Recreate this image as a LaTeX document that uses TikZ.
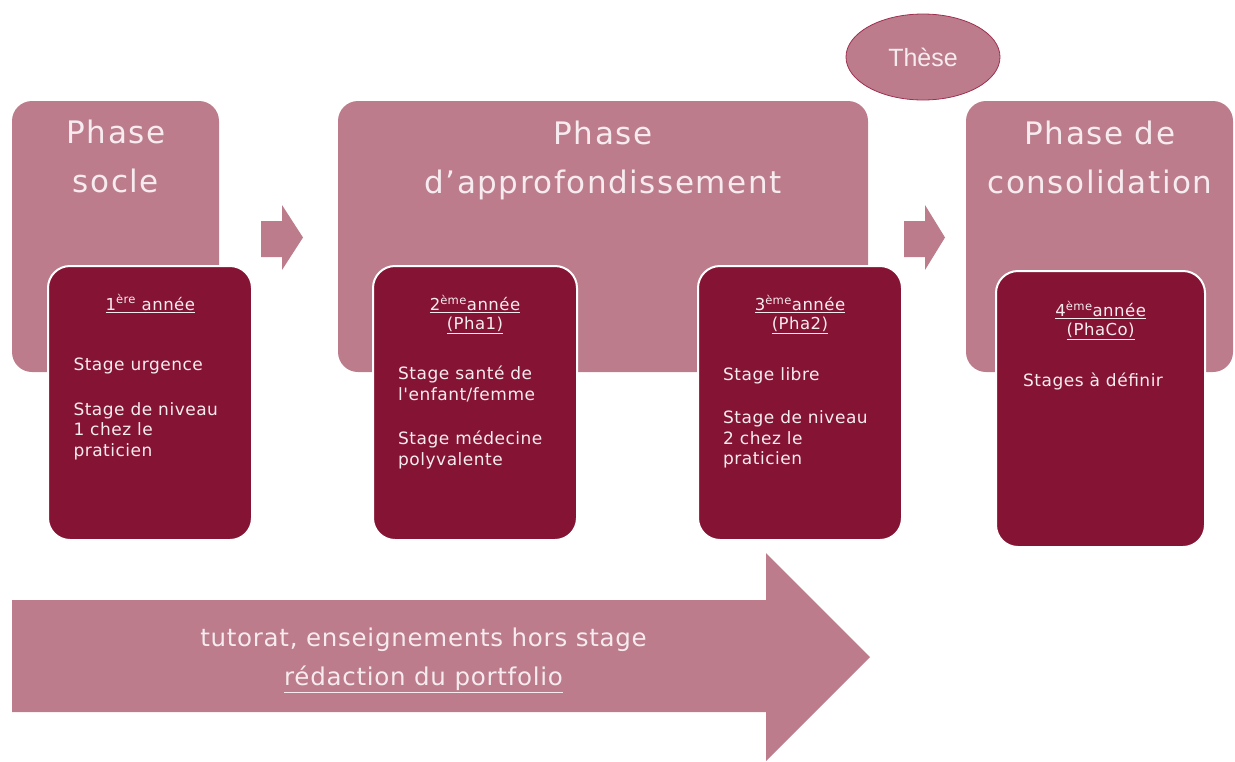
\documentclass[tikz,border=0pt]{standalone}
\usepackage{fontspec}
\setmainfont{DejaVu Sans}
\newfontfamily\titlefont[LetterSpace=5]{DejaVu Sans}
\newfontfamily\boxfont[LetterSpace=3]{DejaVu Sans}
\newfontfamily\thesefont{Liberation Sans}
\usetikzlibrary{shapes.geometric}
\definecolor{phasepink}{RGB}{188,124,140}
\definecolor{yearred}{RGB}{133,20,52}
\definecolor{softwhite}{RGB}{246,236,240}
\definecolor{ellipseedge}{RGB}{158,48,82}

\begin{document}
\begin{tikzpicture}[x=1pt,y=-1pt,
  phasebox/.style={fill=phasepink, rounded corners=20pt, inner sep=0pt, minimum height=271pt},
  yearbox/.style={fill=yearred, draw=white, line width=2pt, rounded corners=22pt, inner sep=0pt},
  phasetitle/.style={text=softwhite, inner sep=0pt, anchor=north, align=center,
    font=\titlefont\fontsize{31}{48.5}\selectfont, execute at begin node={\rule{0pt}{30pt}}},
  yearhead/.style={text=softwhite, inner sep=0pt, anchor=north, align=center,
    font=\boxfont\fontsize{16.5}{18.5}\selectfont, execute at begin node={\rule{0pt}{16pt}}},
  yearbody/.style={text=softwhite, inner sep=0pt, anchor=north west, align=left,
    font=\boxfont\fontsize{17}{20.5}\selectfont, execute at begin node={\rule{0pt}{14pt}}},
  blockarrow/.style={fill=phasepink},
]
\useasboundingbox (0,0) rectangle (1235,761);

% phase panels
\node[phasebox, minimum width=207pt] (socle) at (115.5,236.5) {};
\node[phasebox, minimum width=530pt] (approf) at (603,236.5) {};
\node[phasebox, minimum width=267pt] (consol) at (1099.5,236.5) {};

\node[phasetitle] (socletitle) at (116,120) {Phase\\socle};
\node[phasetitle] (approftitle) at (603,121) {Phase\\d’approfondissement};
\node[phasetitle] (consoltitle) at (1100,121) {Phase de\\consolidation};

% arrows between phases
\fill[blockarrow] (261,221) -- (282,221) -- (282,205) -- (303,237.5) -- (282,270) -- (282,257) -- (261,257) -- cycle;
\fill[blockarrow] (904,221) -- (925,221) -- (925,205) -- (945,237.5) -- (925,270) -- (925,257) -- (904,257) -- cycle;

% thesis bubble
\node[ellipse, fill=phasepink, draw=ellipseedge, line width=0.8pt,
      minimum width=154pt, minimum height=86pt, inner sep=0pt,
      text=softwhite, font=\thesefont\fontsize{25}{30}\selectfont] (these) at (923,57) {Thèse};

% yearly internship cards
\node[yearbox, minimum width=204pt, minimum height=274pt] (y1) at (150,403) {};
\node[yearbox, minimum width=204pt, minimum height=274pt] (y2) at (475,403) {};
\node[yearbox, minimum width=204pt, minimum height=274pt] (y3) at (800,403) {};
\node[yearbox, minimum width=209pt, minimum height=276pt] (y4) at (1100.5,409) {};

\node[yearhead] (y1head) at (150.3,294) {\underline{1\textsuperscript{ère} année}};
\node[yearbody] (y1body) at (73.3,358) {Stage urgence\\[24pt]Stage de niveau\\1 chez le\\praticien};

\node[yearhead] (y2head) at (475,295) {\underline{2\textsuperscript{ème}année}\\\underline{(Pha1)}};
\node[yearbody] (y2body) at (398,366) {Stage santé de\\l'enfant/femme\\[24pt]Stage médecine\\polyvalente};

\node[yearhead] (y3head) at (800,295) {\underline{3\textsuperscript{ème}année}\\\underline{(Pha2)}};
\node[yearbody] (y3body) at (723,367) {Stage libre\\[23pt]Stage de niveau\\2 chez le\\praticien};

\node[yearhead] (y4head) at (1100.7,301) {\underline{4\textsuperscript{ème}année}\\\underline{(PhaCo)}};
\node[yearbody] (y4body) at (1023,372) {Stages à définir};

% long arrow along the whole curriculum
\fill[blockarrow] (12,600) -- (766,600) -- (766,553) -- (870,657) -- (766,761) -- (766,712) -- (12,712) -- cycle;
\node[text=softwhite, inner sep=0pt, anchor=north, align=center,
      font=\boxfont\fontsize{24.5}{39}\selectfont, execute at begin node={\rule{0pt}{22pt}}]
      (tutorat) at (423.5,628) {tutorat, enseignements hors stage\\\underline{rédaction du portfolio}};
\end{tikzpicture}
\end{document}
